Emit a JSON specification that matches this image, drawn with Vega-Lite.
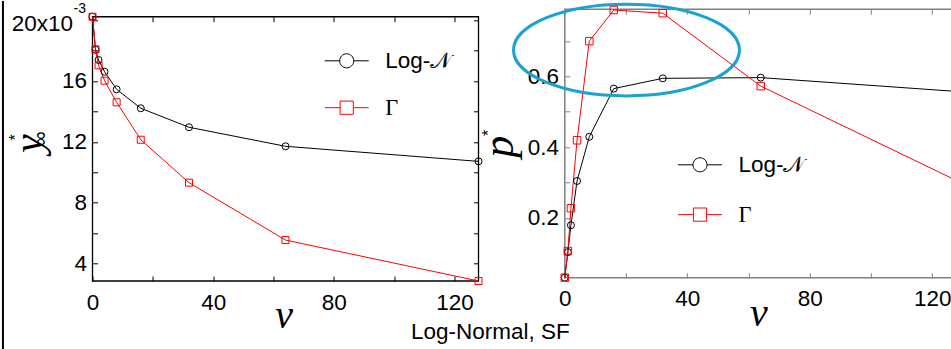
{
  "$schema": "https://vega.github.io/schema/vega-lite/v6.json",
  "padding": {"left": 1.5, "top": -2.7, "right": 0, "bottom": 0},
  "background": "white",
  "bounds": "flush",
  "spacing": 86.3,
  "config": {
    "view": {"stroke": null},
    "axis": {
      "labelFont": "Liberation Sans", "labelFontSize": 22.5, "labelColor": "black", "labelFlush": false, "labelOverlap": false,
      "grid": false, "domain": false, "tickSize": -5, "tickWidth": 1,
      "titleFont": "Liberation Serif", "titleFontStyle": "italic", "titleFontWeight": "normal", "titleColor": "black"
    }
  },
  "resolve": {"scale": {"color": "independent"}, "legend": {"color": "independent"}},
  "datasets": {
    "one": [{}],
    "left": [
      {"series": "Log-𝒩", "v": 0, "value": 20.22},
      {"series": "Log-𝒩", "v": 1, "value": 18.05},
      {"series": "Log-𝒩", "v": 2, "value": 17.38},
      {"series": "Log-𝒩", "v": 4, "value": 16.61},
      {"series": "Log-𝒩", "v": 8, "value": 15.45},
      {"series": "Log-𝒩", "v": 16, "value": 14.21},
      {"series": "Log-𝒩", "v": 32, "value": 12.96},
      {"series": "Log-𝒩", "v": 64, "value": 11.71},
      {"series": "Log-𝒩", "v": 128, "value": 10.72},
      {"series": "Γ", "v": 0, "value": 20.22},
      {"series": "Γ", "v": 1, "value": 18.08},
      {"series": "Γ", "v": 2, "value": 17.03},
      {"series": "Γ", "v": 4, "value": 16.02},
      {"series": "Γ", "v": 8, "value": 14.6},
      {"series": "Γ", "v": 16, "value": 12.14},
      {"series": "Γ", "v": 32, "value": 9.32},
      {"series": "Γ", "v": 64, "value": 5.55},
      {"series": "Γ", "v": 128, "value": 2.86}
    ],
    "right": [
      {"series": "Log-𝒩", "v": 0, "value": 0.031},
      {"series": "Log-𝒩", "v": 1, "value": 0.103},
      {"series": "Log-𝒩", "v": 2, "value": 0.179},
      {"series": "Log-𝒩", "v": 4, "value": 0.304},
      {"series": "Log-𝒩", "v": 8, "value": 0.429},
      {"series": "Log-𝒩", "v": 16, "value": 0.565},
      {"series": "Log-𝒩", "v": 32, "value": 0.594},
      {"series": "Log-𝒩", "v": 64, "value": 0.596},
      {"series": "Log-𝒩", "v": 128, "value": 0.557},
      {"series": "Γ", "v": 0, "value": 0.031},
      {"series": "Γ", "v": 1, "value": 0.106},
      {"series": "Γ", "v": 2, "value": 0.227},
      {"series": "Γ", "v": 4, "value": 0.419},
      {"series": "Γ", "v": 8, "value": 0.699},
      {"series": "Γ", "v": 16, "value": 0.787},
      {"series": "Γ", "v": 32, "value": 0.778},
      {"series": "Γ", "v": 64, "value": 0.572},
      {"series": "Γ", "v": 128, "value": 0.305}
    ]
  },
  "hconcat": [
    {
      "width": 386,
      "height": 271.7,
      "resolve": {"axis": {"x": "independent", "y": "independent"}},
      "layer": [
        {
          "data": {"name": "one"},
          "mark": {"type": "rule", "stroke": "black", "strokeWidth": 2},
          "encoding": {
            "x": {"datum": -29.7, "type": "quantitative", "scale": {"domain": [0, 128], "nice": false, "zero": false}, "axis": null},
            "y": {"datum": 21.25, "type": "quantitative", "scale": {"domain": [2.86, 20.71], "nice": false, "zero": false}, "axis": null},
            "y2": {"datum": -1.8}
          }
        },
        {
          "data": {"name": "one"},
          "mark": {"type": "rect", "fillOpacity": 0, "stroke": "black", "strokeWidth": 1.3},
          "encoding": {
            "x": {"datum": 0, "type": "quantitative", "scale": {"domain": [0, 128], "nice": false, "zero": false}, "axis": null},
            "x2": {"datum": 128},
            "y": {"datum": 2.86, "type": "quantitative", "scale": {"domain": [2.86, 20.71], "nice": false, "zero": false}, "axis": null},
            "y2": {"datum": 20.22}
          }
        },
        {
          "data": {"name": "left"},
          "mark": {"type": "line", "strokeWidth": 1},
          "encoding": {
            "x": {"field": "v", "type": "quantitative", "scale": {"domain": [0, 128], "nice": false, "zero": false},
              "axis": {"values": [0, 20, 40, 60, 80, 100, 120], "labelExpr": "datum.value % 40 === 0 ? datum.label : ''", "labelPadding": 15.6, "tickColor": "black",
                "title": "v", "titleX": 191, "titleY": 47, "titleAlign": "center", "titleBaseline": "alphabetic", "titleFontSize": 40, "titleAngle": 0}},
            "y": {"field": "value", "type": "quantitative", "scale": {"domain": [2.86, 20.71], "nice": false, "zero": false},
              "axis": {"values": [4, 6, 8, 10, 12, 14, 16, 18, 20],
                "labelExpr": "datum.value === 20 ? '20x10' : (datum.value % 4 === 0 ? datum.label : '')",
                "labelPadding": {"condition": {"test": "datum.value === 20", "value": 25}, "value": 11},
                "labelOffset": {"condition": {"test": "datum.value === 20", "value": 3.8}, "value": 0},
                "tickColor": "black",
                "title": "y", "titleX": -64, "titleY": 134, "titleAngle": 270, "titleAlign": "center", "titleBaseline": "middle", "titleFontSize": 42}},
            "color": {"field": "series", "type": "nominal", "scale": {"domain": ["Log-𝒩", "Γ"], "range": ["black", "red"]},
              "legend": {"orient": "none", "legendX": 231.7, "legendY": 29, "title": null, "padding": 0, "symbolSize": 1936,
                "symbolType": {"expr": "datum.value === 'Γ' ? 'M-1,0L-0.3,0M0.3,0L1,0M-0.3,-0.3L0.3,-0.3L0.3,0.3L-0.3,0.3Z' : 'M-1,0L-0.32,0M0.32,0L1,0M-0.32,0C-0.32,-0.1767,-0.1767,-0.32,0,-0.32C0.1767,-0.32,0.32,-0.1767,0.32,0C0.32,0.1767,0.1767,0.32,0,0.32C-0.1767,0.32,-0.32,0.1767,-0.32,0Z'"},
                "symbolFillColor": "transparent", "symbolStrokeWidth": 1,
                "labelFont": {"expr": "datum.label === 'Γ' ? 'Liberation Serif' : 'Liberation Sans'"},
                "labelFontSize": 22.5, "labelColor": "black", "labelOffset": 16, "rowPadding": 12.9, "labelLimit": 0}}
          }
        },
        {
          "data": {"name": "left"},
          "transform": [{"filter": "datum.series !== 'Γ'"}],
          "mark": {"type": "point", "filled": false, "color": "black", "strokeWidth": 1, "size": 49, "shape": "circle", "opacity": 1},
          "encoding": {
            "x": {"field": "v", "type": "quantitative", "scale": {"domain": [0, 128], "nice": false, "zero": false}, "axis": null},
            "y": {"field": "value", "type": "quantitative", "scale": {"domain": [2.86, 20.71], "nice": false, "zero": false}, "axis": null}
          }
        },
        {
          "data": {"name": "left"},
          "transform": [{"filter": "datum.series === 'Γ'"}],
          "mark": {"type": "point", "filled": false, "color": "red", "strokeWidth": 1, "size": 49, "shape": "square", "opacity": 1},
          "encoding": {
            "x": {"field": "v", "type": "quantitative", "scale": {"domain": [0, 128], "nice": false, "zero": false}, "axis": null},
            "y": {"field": "value", "type": "quantitative", "scale": {"domain": [2.86, 20.71], "nice": false, "zero": false}, "axis": null}
          }
        },
        {
          "data": {"name": "left"},
          "mark": {"type": "point", "opacity": 0},
          "encoding": {
            "x": {"field": "v", "type": "quantitative", "scale": {"domain": [0, 128], "nice": false, "zero": false},
              "axis": {"orient": "top", "offset": -7.4, "values": [0, 20, 40, 60, 80, 100, 120], "labels": false, "tickColor": "black", "title": null}},
            "y": {"field": "value", "type": "quantitative", "scale": {"domain": [2.86, 20.71], "nice": false, "zero": false},
              "axis": {"orient": "right", "values": [4, 6, 8, 10, 12, 14, 16, 18, 20], "labels": false, "tickColor": "black", "title": null}}
          }
        },
        {
          "data": {"name": "one"},
          "mark": {"type": "text", "text": "-3", "font": "Liberation Sans", "fontSize": 14, "align": "left", "baseline": "middle", "color": "black"},
          "encoding": {
            "x": {"datum": -6.3, "type": "quantitative", "scale": {"domain": [0, 128], "nice": false, "zero": false}, "axis": null},
            "y": {"datum": 20.76, "type": "quantitative", "scale": {"domain": [2.86, 20.71], "nice": false, "zero": false}, "axis": null}
          }
        },
        {
          "data": {"name": "one"},
          "mark": {"type": "text", "text": "*", "font": "Liberation Sans", "fontSize": 16, "angle": 270, "align": "center", "baseline": "middle", "color": "black"},
          "encoding": {
            "x": {"datum": -25.5, "type": "quantitative", "scale": {"domain": [0, 128], "nice": false, "zero": false}, "axis": null},
            "y": {"datum": 12.3, "type": "quantitative", "scale": {"domain": [2.86, 20.71], "nice": false, "zero": false}, "axis": null}
          }
        },
        {
          "data": {"name": "one"},
          "mark": {"type": "text", "text": "∞", "font": "Liberation Sans", "fontSize": 21, "angle": 270, "align": "center", "baseline": "middle", "color": "black"},
          "encoding": {
            "x": {"datum": -17.2, "type": "quantitative", "scale": {"domain": [0, 128], "nice": false, "zero": false}, "axis": null},
            "y": {"datum": 12.2, "type": "quantitative", "scale": {"domain": [2.86, 20.71], "nice": false, "zero": false}, "axis": null}
          }
        }
      ]
    },
    {
      "width": 391.9,
      "height": 268.4,
      "resolve": {"axis": {"x": "independent", "y": "independent"}},
      "layer": [
        {
          "data": {"name": "one"},
          "mark": {"type": "rect", "fillOpacity": 0, "stroke": "#808080", "strokeWidth": 1.5},
          "encoding": {
            "x": {"datum": 0, "type": "quantitative", "scale": {"domain": [0, 128], "nice": false, "zero": false}, "axis": null},
            "x2": {"datum": 128},
            "y": {"datum": 0.0308, "type": "quantitative", "scale": {"domain": [0.0308, 0.789], "nice": false, "zero": false}, "axis": null},
            "y2": {"datum": 0.789}
          }
        },
        {
          "data": {"name": "right"},
          "mark": {"type": "line", "strokeWidth": 1},
          "encoding": {
            "x": {"field": "v", "type": "quantitative", "scale": {"domain": [0, 128], "nice": false, "zero": false},
              "axis": {"values": [0, 20, 40, 60, 80, 100, 120], "labelExpr": "datum.value % 40 === 0 ? datum.label : ''", "labelPadding": 14.9, "tickColor": "#808080",
                "title": "v", "titleX": 193.7, "titleY": 48.3, "titleAlign": "center", "titleBaseline": "alphabetic", "titleFontSize": 40, "titleAngle": 0}},
            "y": {"field": "value", "type": "quantitative", "scale": {"domain": [0.0308, 0.789], "nice": false, "zero": false},
              "axis": {"values": [0.1, 0.2, 0.3, 0.4, 0.5, 0.6, 0.7],
                "labelExpr": "round(datum.value * 10) % 2 === 0 ? datum.label : ''",
                "labelPadding": 11.3, "tickColor": "#808080",
                "title": "p", "titleX": -65.2, "titleY": 137, "titleAngle": 270, "titleAlign": "center", "titleBaseline": "middle", "titleFontSize": 44}},
            "color": {"field": "series", "type": "nominal", "scale": {"domain": ["Log-𝒩", "Γ"], "range": ["black", "red"]},
              "legend": {"orient": "none", "legendX": 112.7, "legendY": 133, "title": null, "padding": 0, "symbolSize": 1936,
                "symbolType": {"expr": "datum.value === 'Γ' ? 'M-1,0L-0.3,0M0.3,0L1,0M-0.3,-0.3L0.3,-0.3L0.3,0.3L-0.3,0.3Z' : 'M-1,0L-0.32,0M0.32,0L1,0M-0.32,0C-0.32,-0.1767,-0.1767,-0.32,0,-0.32C0.1767,-0.32,0.32,-0.1767,0.32,0C0.32,0.1767,0.1767,0.32,0,0.32C-0.1767,0.32,-0.32,0.1767,-0.32,0Z'"},
                "symbolFillColor": "transparent", "symbolStrokeWidth": 1,
                "labelFont": {"expr": "datum.label === 'Γ' ? 'Liberation Serif' : 'Liberation Sans'"},
                "labelFontSize": 22.5, "labelColor": "black", "labelOffset": 16, "rowPadding": 15.8, "labelLimit": 0}}
          }
        },
        {
          "data": {"name": "right"},
          "transform": [{"filter": "datum.series !== 'Γ'"}],
          "mark": {"type": "point", "filled": false, "color": "black", "strokeWidth": 1, "size": 49, "shape": "circle", "opacity": 1},
          "encoding": {
            "x": {"field": "v", "type": "quantitative", "scale": {"domain": [0, 128], "nice": false, "zero": false}, "axis": null},
            "y": {"field": "value", "type": "quantitative", "scale": {"domain": [0.0308, 0.789], "nice": false, "zero": false}, "axis": null}
          }
        },
        {
          "data": {"name": "right"},
          "transform": [{"filter": "datum.series === 'Γ'"}],
          "mark": {"type": "point", "filled": false, "color": "red", "strokeWidth": 1, "size": 56, "shape": "square", "opacity": 1},
          "encoding": {
            "x": {"field": "v", "type": "quantitative", "scale": {"domain": [0, 128], "nice": false, "zero": false}, "axis": null},
            "y": {"field": "value", "type": "quantitative", "scale": {"domain": [0.0308, 0.789], "nice": false, "zero": false}, "axis": null}
          }
        },
        {
          "data": {"name": "right"},
          "mark": {"type": "point", "opacity": 0},
          "encoding": {
            "x": {"field": "v", "type": "quantitative", "scale": {"domain": [0, 128], "nice": false, "zero": false},
              "axis": {"orient": "top", "values": [0, 20, 40, 60, 80, 100, 120], "labels": false, "tickColor": "#808080", "title": null}},
            "y": {"field": "value", "type": "quantitative", "scale": {"domain": [0.0308, 0.789], "nice": false, "zero": false},
              "axis": {"orient": "right", "values": [0.1, 0.2, 0.3, 0.4, 0.5, 0.6, 0.7], "labels": false, "tickColor": "#808080", "title": null}}
          }
        },
        {
          "data": {"name": "one"},
          "mark": {"type": "text", "text": "*", "font": "Liberation Sans", "fontSize": 16, "angle": 270, "align": "center", "baseline": "middle", "color": "black"},
          "encoding": {
            "x": {"datum": -24.8, "type": "quantitative", "scale": {"domain": [0, 128], "nice": false, "zero": false}, "axis": null},
            "y": {"datum": 0.44, "type": "quantitative", "scale": {"domain": [0.0308, 0.789], "nice": false, "zero": false}, "axis": null}
          }
        },
        {
          "data": {"name": "one"},
          "mark": {"type": "text", "text": "Log-Normal, SF", "font": "Liberation Sans", "fontSize": 22.5, "align": "center", "baseline": "middle", "color": "black"},
          "encoding": {
            "x": {"datum": -24.3, "type": "quantitative", "scale": {"domain": [0, 128], "nice": false, "zero": false}, "axis": null},
            "y": {"datum": -0.1226, "type": "quantitative", "scale": {"domain": [0.0308, 0.789], "nice": false, "zero": false}, "axis": null}
          }
        },
        {
          "data": {"name": "one"},
          "mark": {"type": "point", "filled": false, "color": "#1aa3d0", "strokeWidth": 3, "opacity": 1, "size": 51076,
            "shape": "M-1,0C-1,-0.2242,-0.5523,-0.406,0,-0.406C0.5523,-0.406,1,-0.2242,1,0C1,0.2242,0.5523,0.406,0,0.406C-0.5523,0.406,-1,0.2242,-1,0Z"},
          "encoding": {
            "x": {"datum": 20.15, "type": "quantitative", "scale": {"domain": [0, 128], "nice": false, "zero": false}, "axis": null},
            "y": {"datum": 0.674, "type": "quantitative", "scale": {"domain": [0.0308, 0.789], "nice": false, "zero": false}, "axis": null}
          }
        }
      ]
    }
  ]
}
